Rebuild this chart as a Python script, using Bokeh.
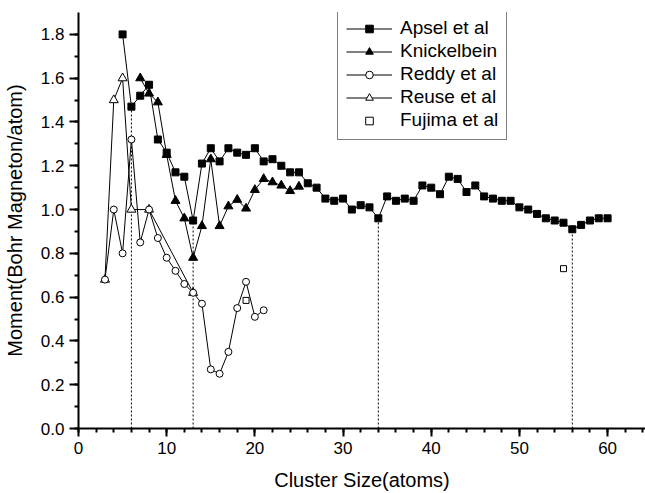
from bokeh.plotting import figure
from bokeh.models import (Range1d, SingleIntervalTicker, NumeralTickFormatter,
                          Legend, LegendItem)
from bokeh.embed import file_html
from bokeh.resources import INLINE

# ---------------- data ----------------
apsel_x = list(range(5, 61))
apsel_y = [1.80, 1.47, 1.52, 1.57, 1.32, 1.26, 1.17, 1.15, 0.95, 1.21,
           1.28, 1.22, 1.28, 1.26, 1.25, 1.28, 1.22, 1.23, 1.20, 1.17,
           1.17, 1.12, 1.10, 1.05, 1.04, 1.05, 1.00, 1.02, 1.01, 0.96,
           1.06, 1.04, 1.05, 1.04, 1.11, 1.10, 1.07, 1.15, 1.14, 1.08,
           1.11, 1.06, 1.05, 1.04, 1.04, 1.01, 1.00, 0.98, 0.96, 0.95,
           0.94, 0.91, 0.93, 0.95, 0.96, 0.96]

knick_x = list(range(7, 26))
knick_y = [1.60, 1.53, 1.49, 1.25, 1.04, 0.96, 0.78, 0.925, 1.23, 0.925,
           1.015, 1.045, 1.005, 1.09, 1.14, 1.125, 1.11, 1.085, 1.105]

reddy_x = [3, 4, 5, 6, 7, 8, 9, 10, 11, 12, 13, 14, 15, 16, 17, 18, 19, 20, 21]
reddy_y = [0.68, 1.00, 0.80, 1.32, 0.85, 1.00, 0.87, 0.78, 0.72, 0.66,
           0.62, 0.57, 0.27, 0.25, 0.35, 0.55, 0.67, 0.51, 0.54]

reuse_x = [3, 4, 5, 6, 8, 13]
reuse_y = [0.68, 1.50, 1.60, 1.00, 1.00, 0.62]

fujima_x = [19, 55]
fujima_y = [0.585, 0.73]

marker_sizes = [6, 13, 34, 56]   # magic cluster sizes (dotted guides)

x_ticks_major = 10
y_ticks_major = 0.2

# ---------------- figure ----------------
FONT = "Liberation Sans"
p = figure(width=645, height=493, output_backend="svg", toolbar_location=None,
           x_range=Range1d(0, 64.3), y_range=Range1d(0, 1.9),
           min_border_left=77, min_border_right=0, min_border_top=12,
           min_border_bottom=63)
p.outline_line_color = None
p.xgrid.grid_line_color = None
p.ygrid.grid_line_color = None
p.background_fill_color = "white"
p.border_fill_color = "white"

p.xaxis.ticker = SingleIntervalTicker(interval=x_ticks_major, num_minor_ticks=5)
p.yaxis.ticker = SingleIntervalTicker(interval=y_ticks_major, num_minor_ticks=2)
p.yaxis.formatter = NumeralTickFormatter(format="0.0")

for ax in (p.xaxis, p.yaxis):
    ax.axis_line_width = 2
    ax.axis_line_color = "black"
    ax.major_tick_line_width = 2
    ax.minor_tick_line_width = 2
    ax.major_tick_line_color = "black"
    ax.minor_tick_line_color = "black"
    ax.major_tick_in = 0
    ax.minor_tick_in = 0
    ax.minor_tick_out = 4
    ax.major_label_text_font = FONT
    ax.major_label_text_font_size = "17px"
    ax.major_label_text_color = "black"
    ax.axis_label_text_font = FONT
    ax.axis_label_text_font_size = "20px"
    ax.axis_label_text_font_style = "normal"
    ax.axis_label_text_color = "black"

p.xaxis.major_tick_out = 8
p.yaxis.major_tick_out = 9
p.xaxis.major_label_standoff = 5
p.yaxis.major_label_standoff = 5
p.xaxis.axis_label = "Cluster Size(atoms)"
p.yaxis.axis_label = "Moment(Bohr Magneton/atom)"
p.xaxis.axis_label_standoff = 12
p.yaxis.axis_label_standoff = 12

# dotted guides from 0 up to the Apsel value
guide_top = [apsel_y[apsel_x.index(m)] for m in marker_sizes]
p.segment(x0=marker_sizes, y0=[0] * len(marker_sizes), x1=marker_sizes, y1=guide_top,
          line_color="black", line_width=1, line_dash="2 2")

# series
l_reuse = p.line(reuse_x, reuse_y, line_color="black", line_width=1)
l_reddy = p.line(reddy_x, reddy_y, line_color="black", line_width=1)
l_knick = p.line(knick_x, knick_y, line_color="black", line_width=1)
l_apsel = p.line(apsel_x, apsel_y, line_color="black", line_width=1)

s_reuse = p.scatter(reuse_x, reuse_y, marker="triangle", size=9,
                    fill_color="white", line_color="black", line_width=1)
s_reddy = p.scatter(reddy_x, reddy_y, marker="circle", size=7,
                    fill_color="white", line_color="black", line_width=1)
s_knick = p.scatter(knick_x, knick_y, marker="triangle", size=9,
                    fill_color="black", line_color="black", line_width=1)
s_apsel = p.scatter(apsel_x, apsel_y, marker="square", size=7,
                    fill_color="black", line_color="black", line_width=1)
s_fuj = p.scatter(fujima_x, fujima_y, marker="square", size=6,
                  fill_color="white", line_color="black", line_width=1)

legend = Legend(items=[
    LegendItem(label="Apsel et al", renderers=[l_apsel, s_apsel]),
    LegendItem(label="Knickelbein", renderers=[l_knick, s_knick]),
    LegendItem(label="Reddy et al", renderers=[l_reddy, s_reddy]),
    LegendItem(label="Reuse et al", renderers=[l_reuse, s_reuse]),
    LegendItem(label="Fujima et al", renderers=[s_fuj]),
])
legend.location = (259, 288)
legend.glyph_width = 46
legend.glyph_height = 19
legend.label_height = 19
legend.spacing = 1
legend.padding = 8
legend.margin = 0
legend.label_standoff = 8
legend.label_text_font = FONT
legend.label_text_font_size = "19px"
legend.label_text_color = "black"
legend.border_line_color = "black"
legend.border_line_width = 1.5
legend.background_fill_color = "white"
legend.background_fill_alpha = 1
p.add_layout(legend)

open("out.html", "w").write(file_html(p, INLINE))
